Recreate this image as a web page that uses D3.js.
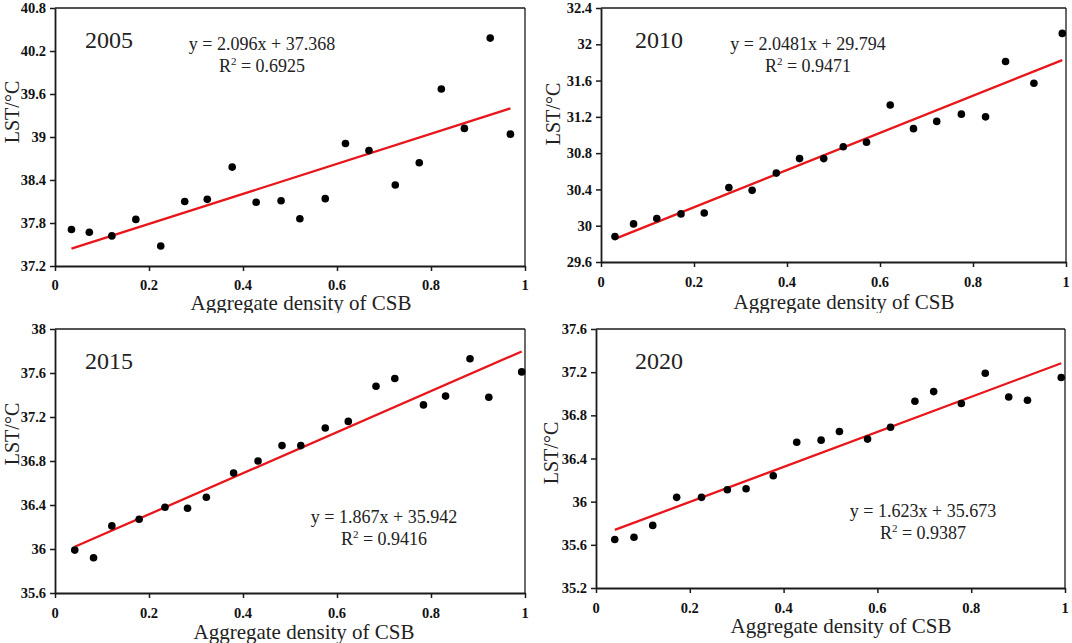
<!DOCTYPE html>
<html>
<head>
<meta charset="utf-8">
<script src="https://cdn.jsdelivr.net/npm/d3@7"></script>
</head>
<body style="margin:0;padding:0;background:#fff">
<svg id="chart" width="1072" height="643" style="display:block"></svg>
<script>
'use strict';

// ---- Data -------------------------------------------------------------------

const years = ['2005', '2010', '2015', '2020'];
const xTicks = [0, 0.2, 0.4, 0.6, 0.8, 1];

const x2005 = [0.035, 0.073, 0.121, 0.172, 0.225, 0.276, 0.324, 0.377, 0.428, 0.481,
               0.521, 0.575, 0.618, 0.668, 0.724, 0.775, 0.822, 0.871, 0.926, 0.969];
const y2005 = [37.71, 37.67, 37.62, 37.85, 37.48, 38.10, 38.13, 38.58, 38.09, 38.11,
               37.86, 38.14, 38.91, 38.81, 38.33, 38.64, 39.67, 39.12, 40.38, 39.04];

const x2010 = [0.030, 0.070, 0.120, 0.172, 0.222, 0.275, 0.325, 0.377, 0.427, 0.479,
               0.521, 0.571, 0.622, 0.672, 0.722, 0.775, 0.827, 0.870, 0.931, 0.992];
const y2010 = [29.88, 30.02, 30.08, 30.13, 30.14, 30.42, 30.39, 30.58, 30.74, 30.74,
               30.87, 30.92, 31.33, 31.07, 31.15, 31.23, 31.20, 31.81, 31.57, 32.12];

const x2015 = [0.042, 0.082, 0.121, 0.179, 0.234, 0.282, 0.322, 0.380, 0.432, 0.483,
               0.523, 0.575, 0.624, 0.683, 0.723, 0.784, 0.831, 0.883, 0.923, 0.993];
const y2015 = [35.99, 35.92, 36.21, 36.27, 36.38, 36.37, 36.47, 36.69, 36.80, 36.94,
               36.94, 37.10, 37.16, 37.48, 37.55, 37.31, 37.39, 37.73, 37.38, 37.61];

const x2020 = [0.040, 0.081, 0.121, 0.172, 0.225, 0.280, 0.320, 0.378, 0.428, 0.480,
               0.519, 0.579, 0.628, 0.680, 0.720, 0.779, 0.830, 0.880, 0.920, 0.992];
const y2020 = [35.65, 35.67, 35.78, 36.04, 36.04, 36.11, 36.12, 36.24, 36.55, 36.57,
               36.65, 36.58, 36.69, 36.93, 37.02, 36.91, 37.19, 36.97, 36.94, 37.15];

const yTicks2005 = [37.2, 37.8, 38.4, 39, 39.6, 40.2, 40.8];
const yTicks2010 = [29.6, 30, 30.4, 30.8, 31.2, 31.6, 32, 32.4];
const yTicks2015 = [35.6, 36, 36.4, 36.8, 37.2, 37.6, 38];
const yTicks2020 = [35.2, 35.6, 36, 36.4, 36.8, 37.2, 37.6];

const slopes     = [2.096, 2.0481, 1.867, 1.623];
const intercepts = [37.368, 29.794, 35.942, 35.673];
const equations  = ['y = 2.096x + 37.368', 'y = 2.0481x + 29.794', 'y = 1.867x + 35.942', 'y = 1.623x + 35.673'];
const r2Values   = ['0.6925', '0.9471', '0.9416', '0.9387'];

const xSeries = [x2005, x2010, x2015, x2020];
const ySeries = [y2005, y2010, y2015, y2020];
const yTickSets = [yTicks2005, yTicks2010, yTicks2015, yTicks2020];

// ---- Layout (pixel positions of each panel) ---------------------------------

const layout = [
  { left: 55,  right: 525,  top: 8,   bottom: 266, clip: [0, 313],
    year: [109, 48],  eq: [262, 50],  yLab: [12, 112],  xLab: [301, 310], xTickY: 290 },
  { left: 601, right: 1066, top: 8,   bottom: 262, clip: [0, 313],
    year: [659, 48],  eq: [808, 50],  yLab: [553, 114], xLab: [844, 309], xTickY: 287 },
  { left: 55,  right: 525,  top: 329, bottom: 593, clip: [313, 643],
    year: [109, 369], eq: [384, 523], yLab: [12, 434],  xLab: [304, 639], xTickY: 618 },
  { left: 596, right: 1065, top: 329, bottom: 588, clip: [313, 643],
    year: [659, 369], eq: [923, 517], yLab: [551, 453], xLab: [841, 633], xTickY: 613 },
];

const SERIF = '"Liberation Serif", "Times New Roman", "DejaVu Serif", serif';
const RED = '#e8161b';
const INK = '#1a1a1a';
const fmt = d => String(+d.toFixed(1));

// ---- Drawing ----------------------------------------------------------------

const svg = d3.select('#chart');
const defs = svg.append('defs');

years.forEach((year, i) => {
  const L = layout[i];
  const xs = xSeries[i], ys = ySeries[i], yTicks = yTickSets[i];

  defs.append('clipPath').attr('id', `clip${i}`)
    .append('rect')
    .attr('x', 0).attr('y', L.clip[0])
    .attr('width', 1072).attr('height', L.clip[1] - L.clip[0]);

  const g = svg.append('g')
    .attr('clip-path', `url(#clip${i})`)
    .attr('font-family', SERIF);

  const x = d3.scaleLinear().domain([0, 1]).range([L.left, L.right]);
  const y = d3.scaleLinear().domain(d3.extent(yTicks)).range([L.bottom, L.top]);

  // Frame: top and right thinner, left and bottom carry the ticks.
  g.append('line').attr('x1', L.left).attr('x2', L.right).attr('y1', L.top).attr('y2', L.top)
    .attr('stroke', INK).attr('stroke-width', 1.3);
  g.append('line').attr('x1', L.right).attr('x2', L.right).attr('y1', L.top).attr('y2', L.bottom)
    .attr('stroke', INK).attr('stroke-width', 1.3);

  const xAxis = g.append('g').attr('transform', `translate(0,${L.bottom})`)
    .call(d3.axisBottom(x).tickValues(xTicks).tickSize(5).tickSizeOuter(0).tickFormat(() => ''));
  const yAxis = g.append('g').attr('transform', `translate(${L.left},0)`)
    .call(d3.axisLeft(y).tickValues(yTicks).tickSize(5).tickSizeOuter(0).tickFormat(() => ''));
  [xAxis, yAxis].forEach(a => {
    a.select('.domain').attr('stroke', INK).attr('stroke-width', 1.8);
    a.selectAll('.tick line').attr('stroke', INK).attr('stroke-width', 1.5);
  });

  // Tick labels (bold serif).
  g.selectAll('.xt').data(xTicks).join('text')
    .attr('x', d => x(d)).attr('y', L.xTickY)
    .attr('text-anchor', 'middle')
    .attr('font-size', 14.5).attr('font-weight', 'bold').attr('fill', '#111')
    .text(d => fmt(d));
  g.selectAll('.yt').data(yTicks).join('text')
    .attr('x', L.left - 9).attr('y', d => y(d)).attr('dy', '0.35em')
    .attr('text-anchor', 'end')
    .attr('font-size', 14.5).attr('font-weight', 'bold').attr('fill', '#111')
    .text(d => fmt(d));

  // Regression line over the range of the points.
  const xr = d3.extent(xs);
  g.append('line')
    .attr('x1', x(xr[0])).attr('y1', y(slopes[i] * xr[0] + intercepts[i]))
    .attr('x2', x(xr[1])).attr('y2', y(slopes[i] * xr[1] + intercepts[i]))
    .attr('stroke', RED).attr('stroke-width', 2.3);

  // Points.
  g.selectAll('circle').data(xs.map((v, k) => [v, ys[k]])).join('circle')
    .attr('cx', d => x(d[0])).attr('cy', d => y(d[1]))
    .attr('r', 3.8).attr('fill', '#000');

  // Year label and equation.
  g.append('text').attr('x', L.year[0]).attr('y', L.year[1])
    .attr('text-anchor', 'middle').attr('font-size', 24).attr('fill', '#222')
    .text(year);
  g.append('text').attr('x', L.eq[0]).attr('y', L.eq[1])
    .attr('text-anchor', 'middle').attr('font-size', 18).attr('fill', '#222')
    .text(equations[i]);
  const r2 = g.append('text').attr('x', L.eq[0]).attr('y', L.eq[1] + 22)
    .attr('text-anchor', 'middle').attr('font-size', 18).attr('fill', '#222');
  r2.append('tspan').text('R');
  r2.append('tspan').attr('font-size', 11).attr('dy', -7).text('2');
  r2.append('tspan').attr('dy', 7).text(` = ${r2Values[i]}`);

  // Axis titles.
  g.append('text').attr('x', L.xLab[0]).attr('y', L.xLab[1])
    .attr('text-anchor', 'middle').attr('font-size', 21).attr('fill', '#222')
    .text('Aggregate density of CSB');
  g.append('text')
    .attr('transform', `translate(${L.yLab[0]},${L.yLab[1]}) rotate(-90)`)
    .attr('dy', '0.35em')
    .attr('text-anchor', 'middle').attr('font-size', 20).attr('fill', '#222')
    .text('LST/°C');
});
</script>
</body>
</html>
